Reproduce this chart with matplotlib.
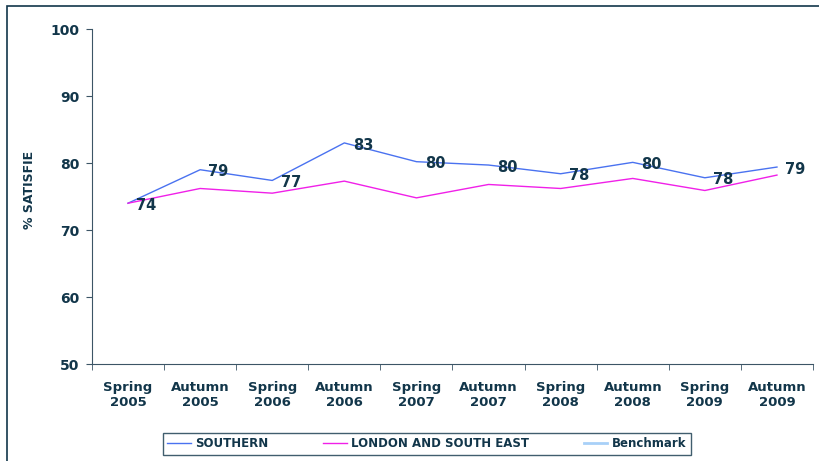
import matplotlib
matplotlib.use("Agg")
import matplotlib.pyplot as plt
import numpy as np

# chart data
periods = ["Spring\n2005", "Autumn\n2005", "Spring\n2006", "Autumn\n2006", "Spring\n2007",
           "Autumn\n2007", "Spring\n2008", "Autumn\n2008", "Spring\n2009", "Autumn\n2009"]
southern = [74.0, 79.0, 77.4, 83.0, 80.2, 79.7, 78.4, 80.1, 77.8, 79.4]
london_se = [74.0, 76.2, 75.5, 77.3, 74.8, 76.8, 76.2, 77.7, 75.9, 78.2]
southern_labels = ["74", "79", "77", "83", "80", "80", "78", "80", "78", "79"]

navy = "#12364a"
axcol = "#3c5566"

fig = plt.figure(figsize=(8.19, 4.61), dpi=100)
ax = fig.add_axes([0.1123, 0.2104, 0.8804, 0.7266])

x = np.arange(len(periods))
ax.plot(x, southern, color="#4a72f0", lw=1.0, label="SOUTHERN")
ax.plot(x, london_se, color="#f020e8", lw=1.0, label="LONDON AND SOUTH EAST")
ax.plot([], [], color="#a8d0f8", lw=2.0, label="Benchmark")

# data labels for SOUTHERN
for xi, yi, lab in zip(x, southern, southern_labels):
    ax.annotate(lab, (xi, yi), xytext=(6, -1.5), textcoords="offset points",
                ha="left", va="center", fontsize=10.5, fontweight="bold", color=navy)

ax.set_ylim(50, 100)
ax.set_yticks([50, 60, 70, 80, 90, 100])
ax.set_xlim(-0.5, len(periods) - 0.5)
ax.set_xticks(x)
ax.set_xticklabels(periods)
ax.set_xticks(np.arange(-0.5, len(periods)), minor=True)
ax.tick_params(axis="x", which="major", length=0, pad=12)
ax.tick_params(axis="x", which="minor", length=4, direction="out", color=axcol)
ax.tick_params(axis="y", length=4, direction="out", color=axcol, pad=5)
for lab in ax.get_xticklabels() + ax.get_yticklabels():
    lab.set_fontweight("bold")
    lab.set_color(navy)
    lab.set_fontsize(9.5)
for lab in ax.get_yticklabels():
    lab.set_fontsize(10)

for side in ["top", "right"]:
    ax.spines[side].set_visible(False)
for side in ["left", "bottom"]:
    ax.spines[side].set_color(axcol)

ax.set_ylabel("% SATISFIE", fontsize=9, fontweight="bold", color=navy)
ax.yaxis.set_label_coords(-0.077, 0.52)

leg = fig.legend(loc="center", bbox_to_anchor=(0.521, 0.037), ncol=3, frameon=True,
                 fancybox=False, edgecolor=navy, fontsize=8.5, handlelength=2.0,
                 columnspacing=4.6, borderpad=0.35, borderaxespad=0.0,
                 handletextpad=0.4)
leg.get_frame().set_linewidth(1.0)
for t in leg.get_texts():
    t.set_fontweight("bold")
    t.set_color(navy)

# outer chart border
fig.add_artist(plt.Rectangle((0.009, -0.05), 1.2, 1.037, transform=fig.transFigure,
                             fill=False, edgecolor=navy, lw=1.2))

fig.savefig("out.png", dpi=100)
